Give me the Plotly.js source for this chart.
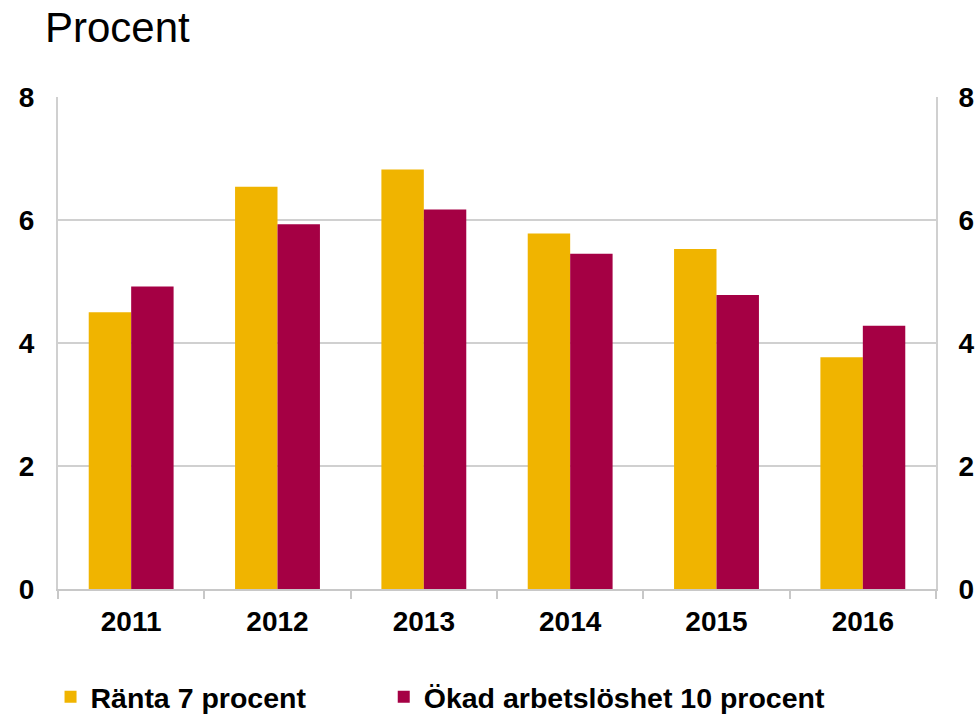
<!DOCTYPE html>
<html>
<head>
<meta charset="utf-8">
<script src="https://cdn.plot.ly/plotly-3.0.1.min.js"></script>
<style>html,body{margin:0;padding:0;background:#fff;}#chart{width:978px;height:719px;}</style>
</head>
<body>
<div id="chart"></div>
<script>
const years = ["2011", "2012", "2013", "2014", "2015", "2016"];
const ranta = [4.50, 6.54, 6.82, 5.78, 5.53, 3.77];
const arbetsloshet = [4.92, 5.93, 6.17, 5.45, 4.78, 4.28];
const seriesNames = ["Ränta 7 procent", "Ökad arbetslöshet 10 procent"];
const yTicks = [0, 2, 4, 6, 8];

const font = "Liberation Sans, Arial, sans-serif";
const tickFont = {family: font, size: 28, color: "#000", weight: "bold"};
const legendFont = {family: font, size: 28.5, color: "#000", weight: "bold"};

const traces = [
  {type: "bar", x: years, y: ranta, name: seriesNames[0], marker: {color: "#F0B400"}, legend: "legend"},
  {type: "bar", x: years, y: arbetsloshet, name: seriesNames[1], marker: {color: "#A50044"}, legend: "legend2"},
  // invisible helper so the right-hand axis gets drawn
  {type: "scatter", x: years, y: arbetsloshet, yaxis: "y2", mode: "none", showlegend: false, hoverinfo: "skip"}
];

const layout = {
  width: 978, height: 719,
  margin: {l: 58, r: 42, t: 97, b: 130, autoexpand: false},
  paper_bgcolor: "#fff", plot_bgcolor: "#fff",
  barmode: "group", bargap: 0.42, bargroupgap: 0,
  showlegend: true,
  legend: {orientation: "h", x: -0.0085, xanchor: "left", y: -0.22, yanchor: "middle", font: legendFont},
  legend2: {orientation: "h", x: 0.371, xanchor: "left", y: -0.22, yanchor: "middle", font: legendFont},
  title: {text: "Procent", x: 45/978, xanchor: "left", y: 0.962, yanchor: "middle",
          font: {family: font, size: 42, color: "#000"}},
  xaxis: {type: "category", showline: true, linecolor: "#c8c8c8", linewidth: 2,
          ticks: "outside", tickson: "boundaries", ticklen: 8, tickcolor: "#c8c8c8", tickwidth: 2,
          ticklabelstandoff: 6,
          showgrid: false, tickfont: tickFont},
  yaxis: {range: [0, 8], tickvals: yTicks, showline: true, linecolor: "#d0d0d0", linewidth: 2,
          gridcolor: "#d0d0d0", gridwidth: 2, zeroline: false, ticks: "",
          ticklabelstandoff: 16, tickfont: tickFont},
  yaxis2: {range: [0, 8], tickvals: yTicks, overlaying: "y", side: "right", showline: true,
           linecolor: "#d0d0d0", linewidth: 2, showgrid: false, zeroline: false, ticks: "",
           ticklabelstandoff: 15, tickfont: tickFont}
};

Plotly.newPlot("chart", traces, layout, {displayModeBar: false, staticPlot: true});
</script>
</body>
</html>
